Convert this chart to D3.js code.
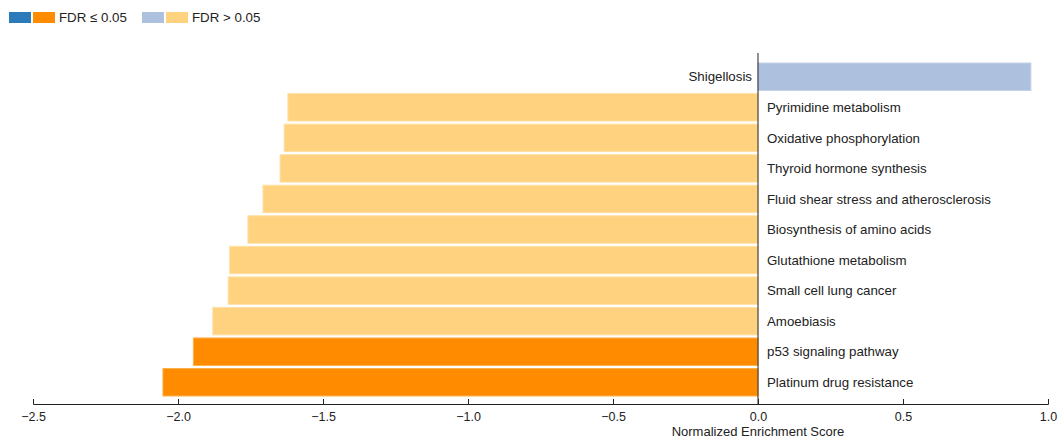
<!DOCTYPE html>
<html>
<head>
<meta charset="utf-8">
<script src="https://cdn.jsdelivr.net/npm/d3@7"></script>
<style>
  body { margin: 0; background: #fff; font-family: "Liberation Sans", Arial, sans-serif; }
  svg text { fill: #222; }
</style>
</head>
<body>
<script>
// pathway names, top to bottom
const pathways = [
  "Shigellosis",
  "Pyrimidine metabolism",
  "Oxidative phosphorylation",
  "Thyroid hormone synthesis",
  "Fluid shear stress and atherosclerosis",
  "Biosynthesis of amino acids",
  "Glutathione metabolism",
  "Small cell lung cancer",
  "Amoebiasis",
  "p53 signaling pathway",
  "Platinum drug resistance"
];
const nesValues = [0.941, -1.621, -1.634, -1.648, -1.707, -1.759, -1.822, -1.827, -1.880, -1.947, -2.052];
const fdrSignificant = [false, false, false, false, false, false, false, false, false, true, true];
const xTicks = [-2.5, -2.0, -1.5, -1.0, -0.5, 0.0, 0.5, 1.0];

const width = 1059, height = 440;

const svg = d3.select("body").append("svg")
  .attr("width", width)
  .attr("height", height);

const x = d3.scaleLinear().domain([-2.5, 1.0]).range([33, 1048]);
const y = d3.scaleBand().domain(pathways).range([63, 396]).paddingInner(0.1).paddingOuter(0);

const fillColor = (v, sig) => v > 0 ? (sig ? "#2b7bba" : "#adc1df") : (sig ? "#ff8c00" : "#ffd27f");
const strokeColor = (v, sig) => v > 0 ? (sig ? "#5a9bd0" : "#c3d2ea") : (sig ? "#ffb04d" : "#ffe0a6");

const rows = pathways.map((p, i) => ({ name: p, nes: nesValues[i], sig: fdrSignificant[i] }));

svg.selectAll("rect.bar")
  .data(rows)
  .enter()
  .append("rect")
  .attr("class", "bar")
  .attr("x", d => x(Math.min(0, d.nes)))
  .attr("width", d => Math.abs(x(d.nes) - x(0)))
  .attr("y", d => y(d.name))
  .attr("height", y.bandwidth())
  .attr("fill", d => fillColor(d.nes, d.sig))
  .attr("stroke", d => strokeColor(d.nes, d.sig))
  .attr("stroke-width", 1);

// labels sit on the other side of zero
svg.selectAll("text.label")
  .data(rows)
  .enter()
  .append("text")
  .attr("class", "label")
  .attr("x", d => d.nes < 0 ? x(0) + 9 : x(0) - 6)
  .attr("y", d => y(d.name) + y.bandwidth() / 2)
  .attr("dy", "0.35em")
  .attr("text-anchor", d => d.nes < 0 ? "start" : "end")
  .style("font-size", "13.3px")
  .text(d => d.name);

// zero line
svg.append("line")
  .attr("x1", x(0)).attr("x2", x(0))
  .attr("y1", 53).attr("y2", 404)
  .attr("stroke", "#222")
  .attr("stroke-width", 1);

const axis = svg.append("g")
  .attr("transform", "translate(0,404)")
  .call(d3.axisBottom(x).tickValues(xTicks).tickFormat(d3.format(".1f")).tickSizeOuter(0).tickSize(-5));

axis.select(".domain").attr("stroke", "#222");
axis.selectAll(".tick line").attr("stroke", "#222");
axis.selectAll(".tick text")
  .attr("y", 8)
  .style("font-family", "Liberation Sans, Arial, sans-serif")
  .style("font-size", "12.5px")
  .attr("fill", "#222");

svg.append("text")
  .attr("x", x(0))
  .attr("y", 436)
  .attr("text-anchor", "middle")
  .style("font-size", "13px")
  .text("Normalized Enrichment Score");

// legend
const legend = svg.append("g").attr("transform", "translate(9,12)");
const legendItems = [
  { colors: ["#2b7bba", "#ff8c00"], label: "FDR \u2264 0.05", x: 0 },
  { colors: ["#adc1df", "#ffd27f"], label: "FDR > 0.05", x: 133 }
];
legendItems.forEach(item => {
  const g = legend.append("g").attr("transform", `translate(${item.x},0)`);
  item.colors.forEach((c, i) => {
    g.append("rect")
      .attr("x", i * 24)
      .attr("y", 0)
      .attr("width", 22)
      .attr("height", 11)
      .attr("fill", c);
  });
  g.append("text")
    .attr("x", 50)
    .attr("y", 5.5)
    .attr("dy", "0.35em")
    .style("font-size", "13.3px")
    .text(item.label);
});
</script>
</body>
</html>
